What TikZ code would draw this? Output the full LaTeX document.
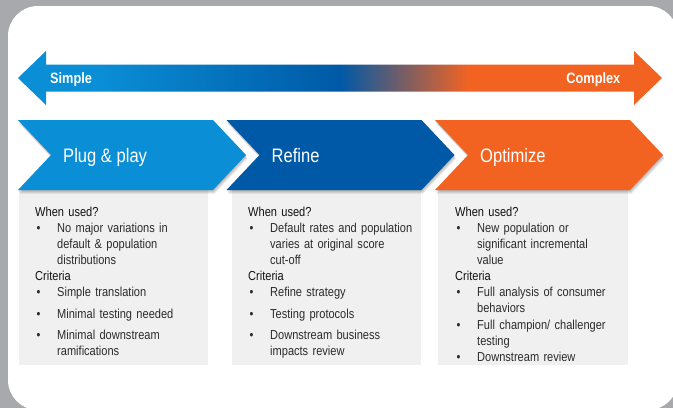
\documentclass[tikz,border=0pt]{standalone}
\usepackage{fontspec}
\setmainfont[FakeStretch=0.85]{Liberation Sans}
\definecolor{bgray}{HTML}{A7A9AC}
\definecolor{cA}{HTML}{0A8FD6}
\definecolor{cB}{HTML}{0059A6}
\definecolor{cC}{HTML}{F26322}
\definecolor{boxgray}{HTML}{F0F0F0}
\definecolor{headtxt}{HTML}{111111}
\definecolor{itemtxt}{HTML}{2B2B2B}
\pgfdeclarehorizontalshading{topgrad}{100bp}{color(0bp)=(cA); color(31bp)=(cA); color(50bp)=(cB); color(60bp)=(cC); color(100bp)=(cC)}
\newcommand{\bitem}[1]{\par\hangindent=22pt\hangafter=1\noindent\makebox[22pt][l]{\hspace{1.5pt}\textbullet}#1\par}
\newcommand{\hd}[1]{\par\noindent{\color{headtxt}#1}\par}
\tikzset{
  titletext/.style={font=\fontsize{19.5}{22}\selectfont, text=white, anchor=base west, inner sep=0},
  endtext/.style={font=\bfseries\fontsize{15}{18}\selectfont, text=white, inner sep=0},
  infobox/.style={fill=boxgray, draw=none, anchor=north west, inner sep=0, minimum width=189pt, minimum height=175pt},
  bodytext/.style={font=\fontsize{13}{16}\selectfont, text=itemtxt, anchor=north west, inner sep=0, text width=185pt, align=left},
}
\begin{document}
\begin{tikzpicture}[x=1pt,y=-1pt]
\useasboundingbox (0,0) rectangle (673,408);
% frame
\fill[bgray] (0,0) rectangle (673,408);
\fill[white, rounded corners=30pt] (8,6) rectangle (678,410);
% top double arrow
\path[shading=topgrad] (18,78) -- (46,51) -- (46,64.5) -- (634,64.5) -- (634,51) -- (662,78) -- (634,105) -- (634,91.5) -- (46,91.5) -- (46,105) -- cycle;
\node[endtext, anchor=base west] (simple) at (50,83.3) {Simple};
\node[endtext, anchor=base east] (complex) at (620.5,83.3) {Complex};
% info boxes
\node[infobox] (b1) at (19,190) {};
\node[infobox] (b2) at (232,190) {};
\node[infobox, minimum width=190pt] (b3) at (438,190) {};
% chevrons with soft shadow
\foreach \L/\col in {18/cA, 226.5/cB, 435/cC} {
  \foreach \i in {1,...,5} {
    \fill[black, opacity=0.06] (\L+0.3*\i,120+0.8*\i) -- ++(195,0) -- ++(33,35) -- ++(-33,35) -- ++(-195,0) -- ++(33,-35) -- cycle;
  }
  \fill[\col] (\L,120) -- ++(195,0) -- ++(33,35) -- ++(-33,35) -- ++(-195,0) -- ++(33,-35) -- cycle;
}
\node[titletext] (t1) at (63,162.5) {Plug \& play};
\node[titletext] (t2) at (271.5,162.5) {Refine};
\node[titletext] (t3) at (480,162.5) {Optimize};
% body texts
\node[bodytext] (x1) at (35,200.5) {%
\hd{When used?}
\bitem{No major variations in\newline default \& population\newline distributions}
\hd{Criteria}
\bitem{Simple translation}
\vspace{6pt}
\bitem{Minimal testing needed}
\vspace{5pt}
\bitem{Minimal downstream\newline ramifications}};
\node[bodytext] (x2) at (248,200.5) {%
\hd{When used?}
\bitem{Default rates and population\newline varies at original score\newline cut-off}
\hd{Criteria}
\bitem{Refine strategy}
\vspace{6pt}
\bitem{Testing protocols}
\vspace{5pt}
\bitem{Downstream business\newline impacts review}};
\node[bodytext] (x3) at (455,200.5) {%
\hd{When used?}
\bitem{New population or\newline significant incremental\newline value}
\hd{Criteria}
\bitem{Full analysis of consumer\newline behaviors}
\vspace{1pt}
\bitem{Full champion/ challenger\newline testing}
\bitem{Downstream review}};
\end{tikzpicture}
\end{document}
